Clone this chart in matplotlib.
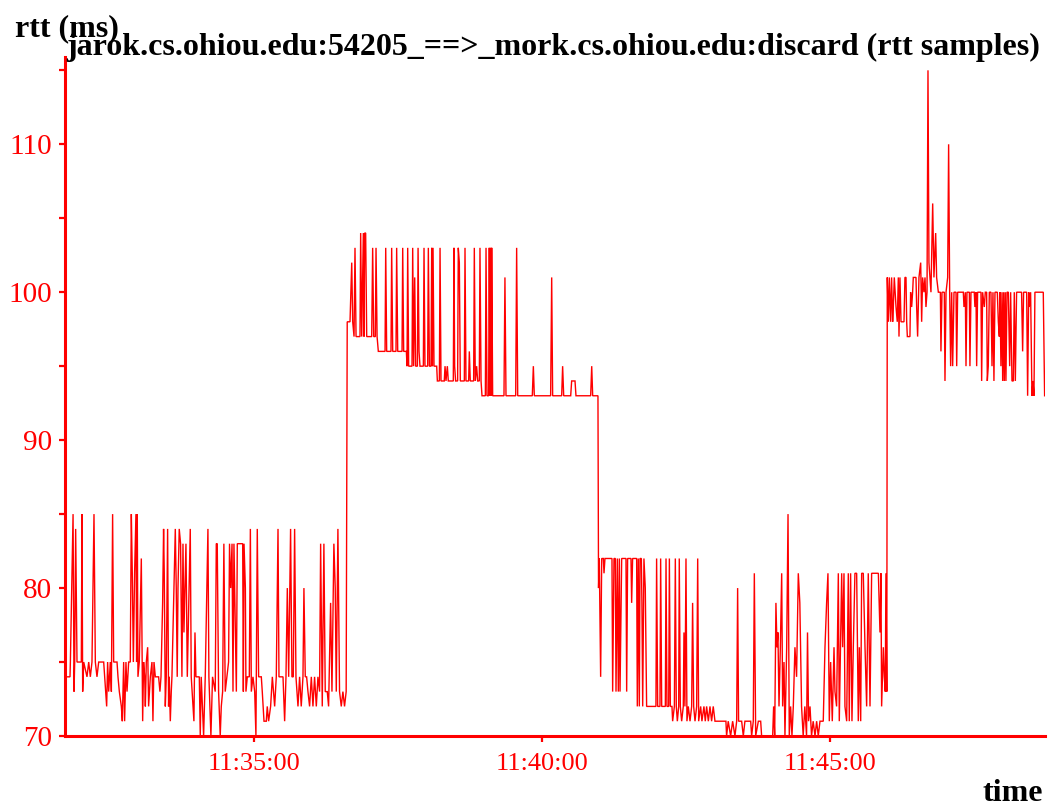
import matplotlib
matplotlib.use("Agg")
import matplotlib.pyplot as plt
import numpy as np

# RTT samples for the connection, time in seconds after 11:30:00.
# Phase 1: base around 74-75 ms
phase1_t = [104.2, 108.3, 108.7, 111.5, 112.5, 113.2, 114.2, 115.6, 120.1, 120.8, 121.5, 122.6,
            126, 127.8, 129.5, 131.2, 133.3, 134.7, 136.4, 138.2, 143.4, 144.4, 145.5, 146.5,
            147.5, 148.6, 150.3, 151.4, 152.7, 153.8, 157.3, 158.3, 159.7, 161.8, 162.8, 164.2,
            165.2, 166.6, 167.7, 169.4, 171.1, 172.2, 173.2, 174.3, 175.6, 177, 177.7, 178.4,
            179.1, 180.5, 182.6, 184, 185, 186.1, 186.8, 187.8, 189.2, 190.2, 192, 193.7, 194.7,
            195.8, 197.2, 200.6, 202, 203.1, 204.8, 205.8, 206.5, 207.6, 208.6, 210, 211, 211.7,
            212.8, 213.8, 214.5, 218, 219, 220, 220.8, 222.1, 223.5, 224.9, 226, 227, 229.1,
            230.5, 233.6, 234.6, 237.4, 238.5, 239.5, 243, 244, 245, 247.5, 249.2, 252, 253,
            255.1, 256.8, 259.6, 260.7, 261.7, 263.1, 264.8, 265.9, 267.3, 268.6, 270, 271.8,
            273.5, 274.5, 275.7, 277.1, 278.1, 279.1, 281.6, 282.6, 288.2, 288.9, 289.6, 291,
            291.6, 293, 295.1, 296.2, 297.2, 298.9, 300.7, 302, 303.4, 304.8, 307.6, 308.6,
            310.4, 312.8, 313.8, 315.2, 317.3, 319.1, 321.5, 323.2, 325, 326, 330.2, 331.9,
            333.3, 334.7, 336.1, 338.1, 339.5, 340.9, 342.3, 343.7, 345.8, 347.5, 349.2, 351,
            352, 353.4, 354.8, 356.2, 357.9, 359.7, 361.4, 363.1, 364.9, 366.6, 368.3, 369.4,
            371.1, 372.8, 374.2, 376.3, 377.7, 379.8, 381.2, 383.2, 384.6, 385.7, 387.4, 389.1,
            390.9, 392.6, 394.3, 396]
phase1_rtt = [74, 74, 75, 85, 73, 75, 84, 75, 75, 85, 73, 75,
              74, 75, 74, 75, 85, 75, 74, 75, 75, 74, 73, 72,
              75, 73, 75, 73, 85, 75, 75, 74, 73, 72, 71, 75,
              71, 75, 73, 75, 75, 85, 81, 75, 81, 85, 75, 85,
              74, 75, 82, 71, 75, 74, 72, 75, 76, 72, 74, 75, 71,
              75, 74, 74, 73, 74, 79, 84, 81, 72, 74, 84, 72, 74,
              71, 73, 74, 84, 80, 74, 80, 84, 83, 74, 83, 77, 83,
              74, 84, 74, 71, 77, 74, 74, 70, 74, 70, 74, 84, 74,
              70, 74, 73, 83, 83, 73, 70, 72, 73, 83, 73, 74,
              75, 83, 80, 83, 73, 83, 73, 83, 83, 73, 83, 80,
              73, 74, 74, 84, 73, 74, 73, 70, 84, 74, 74, 73,
              71, 71, 72, 71, 72, 74, 72, 74, 84, 74, 74, 71,
              74, 80, 74, 84, 74, 74, 84, 74, 72, 74, 72, 74,
              80, 74, 74, 73, 72, 74, 72, 74, 72, 74, 73, 83,
              72, 83, 73, 73, 72, 79, 73, 83, 80, 73, 84, 73,
              72, 73, 72, 73]

# Phase 2: jump to ~98 ms, then slowly stepping down to 93 ms
phase2_t = [397.1, 400, 401.8, 402.8, 404.2, 405.2, 406.3, 410.4, 411.1, 412.2, 413.9, 414.6,
            415.3, 416.3, 417.4, 422.6, 423.6, 424.7, 426.4, 427.1, 428.2, 429.5, 436.5, 437.2,
            438.2, 442.7, 443.4, 444.5, 447.9, 448.6, 449.7, 454.2, 454.9, 455.9, 458.7, 459.4,
            460.1, 461.1, 464.6, 465.3, 466.3, 467.4, 468.4, 470.2, 470.9, 471.9, 472.9, 476.4,
            477.1, 478.1, 480.9, 481.6, 482.7, 484.4, 485.1, 485.8, 486.5, 487.5, 490.3, 491,
            493.1, 493.8, 494.8, 498.2, 499, 500, 501.4, 502.4, 507.6, 508.3, 509, 510, 512.1,
            512.8, 513.9, 514.9, 519.1, 519.8, 520.8, 523.6, 524.3, 525.3, 528.8, 529.5, 530.5,
            531.9, 533, 534.7, 535.4, 536.5, 537.5, 541, 541.7, 542.7, 544.4, 545.1, 545.8,
            546.5, 547.2, 547.6, 548.6, 560.4, 561.4, 562.5, 572.6, 573.6, 574.7, 589.9, 591,
            592, 609, 610.1, 611.1, 620.5, 621.5, 622.6, 629.9, 630.9, 634.4, 635.4, 650.7,
            651.8, 652.8, 658.3]
phase2_rtt = [98, 98, 102, 98, 97, 103, 97, 97, 104, 97, 104, 97,
              104, 104, 97, 97, 103, 97, 97, 103, 97, 96, 96, 103,
              96, 96, 103, 96, 96, 103, 96, 96, 103, 96, 96, 95,
              103, 95, 95, 103, 95, 101, 95, 95, 103, 96, 95, 95,
              103, 95, 95, 103, 95, 95, 103, 95, 103, 95, 95, 94,
              94, 103, 94, 94, 95, 94, 95, 94, 94, 103, 95, 94, 94,
              103, 102, 94, 94, 103, 94, 94, 96, 94, 94, 103, 94,
              95, 94, 94, 103, 94, 93, 93, 103, 93, 93, 103, 93,
              103, 93, 103, 93, 93, 101, 93, 93, 103, 93, 93, 95,
              93, 93, 101, 93, 93, 95, 93, 93, 94, 94, 93, 93,
              95, 93, 93]

# Phase 3: drop to ~82 ms, then down to the 70-72 ms floor and back up to ~81 ms
phase3_t = [658.9, 659.7, 661.1, 662.2, 663.9, 664.6, 665.6, 672.9, 673.6, 675, 676.4, 677.1,
            678.5, 679.5, 680.6, 681.3, 683, 687.5, 688.2, 689.2, 692.7, 693.4, 694.4, 698.6,
            699.3, 700.3, 701.4, 702.1, 703.5, 704.1, 704.9, 706.2, 707.6, 709, 718.7, 719.4,
            720.5, 722.9, 723.6, 724.7, 728.5, 729.2, 730.2, 732, 732.7, 733.7, 735.4, 736.1,
            737.9, 738.9, 739.9, 741, 742.4, 743, 744.1, 745.5, 747.2, 747.9, 748.9, 750, 751,
            752.4, 754.2, 755.9, 756.9, 758, 759.4, 761.1, 762.2, 763.2, 765.3, 766.6, 768.7,
            770.1, 771.5, 773.3, 775, 776.7, 778.4, 780.2, 791.6, 792.3, 794, 796.5, 798.6,
            801, 802.8, 803.8, 804.8, 808, 809.7, 811.4, 817.4, 818.4, 820.1, 821.2, 822.6,
            825.4, 827.8, 828.8, 840.3, 841.3, 842.4, 843.7, 844.8, 845.8, 846.9, 848.3, 849.7,
            850.7, 852.1, 853.1, 854.9, 856.3, 857.6, 859, 860.4, 861.8, 863.5, 865.2, 867,
            868.6, 870.4, 872.1, 873.8, 875.6, 876.6, 877.7, 879.2, 880.8, 882.5, 884.4, 886.1,
            887.8, 889.6, 893, 894.8, 896.5, 897.9, 899.3, 900.7, 902.4, 904.2, 905.2, 906.9,
            908.7, 909.7, 912.2, 913.2, 914.6, 915.6, 917.4, 919.1, 920.1, 921.5, 922.9, 924.3,
            926, 927.8, 929.5, 930.6, 932, 933, 934.7, 936.5, 938.2, 939.9, 941.7, 943.4,
            950.4, 952.1, 953.1, 953.8, 955.6, 956.6, 957.6, 958.3, 959.2]
phase3_rtt = [80, 82, 74, 82, 82, 81, 82, 82, 73, 82, 82, 73,
              82, 73, 82, 73, 82, 82, 73, 82, 82, 79, 82, 82,
              72, 82, 72, 82, 82, 79, 72, 82, 80, 72, 72, 82,
              72, 72, 82, 72, 72, 82, 72, 72, 82, 72, 72, 71,
              72, 82, 72, 71, 72, 82, 72, 71, 72, 77, 72, 82, 71,
              72, 71, 72, 79, 72, 71, 72, 82, 71, 72, 71, 72,
              71, 72, 71, 72, 71, 72, 71, 71, 70, 71, 70, 71,
              70, 71, 80, 71, 71, 70, 71, 71, 70, 71, 81, 70,
              71, 71, 70, 70, 72, 70, 79, 76, 77, 72, 76, 81,
              72, 75, 70, 76, 85, 70, 72, 70, 72, 76, 74, 81,
              79, 72, 70, 72, 70, 77, 71, 72, 70, 71, 70, 71,
              70, 71, 71, 76, 79, 81, 71, 75, 71, 76, 73, 72,
              81, 71, 81, 76, 81, 72, 71, 81, 71, 81, 71, 76,
              81, 81, 71, 76, 71, 81, 81, 76, 72, 81, 72, 81,
              81, 77, 81, 72, 76, 74, 73, 81, 73]

# Phase 4: jump to ~100 ms with a few large outliers
phase4_t = [959.7, 960.8, 961.8, 963.2, 964.2, 965.3, 966, 967, 968.8, 970.1, 971.2, 971.9,
            972.9, 974, 975, 977.1, 978.1, 979.2, 979.9, 980.6, 983.3, 984, 985.1, 986.1,
            986.8, 989.6, 990.3, 991.3, 992.7, 994.5, 995.5, 996.5, 997.9, 999, 1000, 1001.1,
            1002.1, 1003.1, 1004.2, 1005.2, 1007, 1008.3, 1010.1, 1011.1, 1012.9, 1015, 1015.6,
            1016.7, 1019.1, 1019.8, 1020.9, 1022.6, 1023.6, 1024.7, 1025.7, 1026.8, 1027.8,
            1029.2, 1031.3, 1032, 1033, 1038.9, 1039.6, 1041, 1041.7, 1042.7, 1045.2, 1045.8,
            1046.9, 1050.3, 1051, 1052.1, 1052.8, 1053.8, 1057.3, 1058, 1059, 1060.8, 1061.8,
            1063.2, 1063.9, 1064.9, 1066, 1067.7, 1068.8, 1069.8, 1070.8, 1071.9, 1074.3,
            1075.4, 1076.4, 1077.1, 1078.1, 1079.2, 1079.9, 1080.9, 1081.6, 1082.6, 1083.3,
            1084.4, 1085.8, 1087.2, 1088.2, 1089.6, 1091, 1092, 1093.1, 1094.4, 1099.6, 1100.7,
            1101.7, 1104.9, 1105.9, 1107, 1107.6, 1109, 1110.4, 1111.5, 1112.5, 1113.5, 1122.2,
            1123.6]
phase4_rtt = [101, 98, 101, 98, 101, 98, 99, 101, 99, 98, 101, 97,
              101, 98, 98, 98, 101, 101, 98, 97, 97, 100, 99, 100,
              101, 101, 99, 97, 101, 102, 98, 101, 100, 101, 99, 100,
              115, 102, 101, 100, 106, 101, 104, 101, 100, 100, 96,
              100, 100, 94, 100, 101, 110, 100, 95, 100, 95,
              100, 100, 95, 100, 100, 99, 100, 95, 100, 100, 95,
              100, 100, 99, 100, 95, 100, 100, 94, 100, 99, 100,
              100, 94, 95, 100, 100, 95, 100, 94, 100, 100,
              98, 97, 100, 95, 100, 94, 100, 94, 100, 94,
              100, 100, 95, 100, 94, 94, 100, 94, 100, 100, 96,
              100, 100, 93, 100, 99, 100, 93, 94, 93, 100, 100,
              93]

x_tick_pos = [300, 600, 900]
x_tick_labels = ["11:35:00", "11:40:00", "11:45:00"]
y_tick_major = [70, 80, 90, 100, 110]
y_tick_minor = [75, 85, 95, 105, 115]

title = "jarok.cs.ohiou.edu:54205_==>_mork.cs.ohiou.edu:discard (rtt samples)"

t = np.concatenate([phase1_t, phase2_t, phase3_t, phase4_t])
rtt = np.concatenate([phase1_rtt, phase2_rtt, phase3_rtt, phase4_rtt])

W, H = 1052, 806
fig = plt.figure(figsize=(W / 100, H / 100), dpi=100)
ax = fig.add_axes([65 / W, 70 / H, 980 / W, 679 / H])

serif = "Liberation Serif"
ax.plot(t, rtt, color="red", lw=1.0, solid_joinstyle="miter")

ax.set_xlim(103.1, 1124)
ax.set_ylim(70, 115.9)

for side in ("top", "right"):
    ax.spines[side].set_visible(False)
for side in ("left", "bottom"):
    ax.spines[side].set_color("red")
    ax.spines[side].set_linewidth(2.2)

ax.set_xticks(x_tick_pos)
ax.set_xticklabels(x_tick_labels)
ax.set_yticks(y_tick_major)
ax.set_yticks(y_tick_minor, minor=True)
ax.tick_params(axis="both", which="both", colors="red", direction="out",
               length=4, width=1.6)
ax.tick_params(axis="x", pad=8, labelsize=19)
ax.tick_params(axis="y", pad=5, labelsize=21)
for lab in ax.get_xticklabels() + ax.get_yticklabels():
    lab.set_fontfamily(serif)
    lab.set_color("red")

fig.text(15 / W, 1 - 36 / H, "rtt (ms)", fontsize=23, fontweight="bold",
         family=serif, ha="left", va="baseline")
fig.text(553 / W, 1 - 55 / H, title, fontsize=23, fontweight="bold",
         family=serif, ha="center", va="baseline")
fig.text(1043 / W, 1 - 801 / H, "time", fontsize=23, fontweight="bold",
         family=serif, ha="right", va="baseline")

fig.savefig("out.png", dpi=100, facecolor="white")
